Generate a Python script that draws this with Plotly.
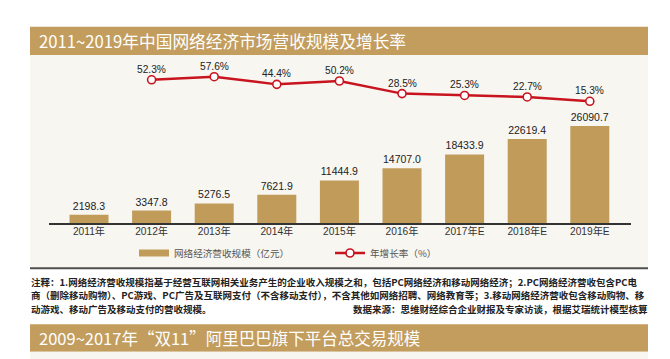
import plotly.graph_objects as go

# ---- data ----
years = ["2011年", "2012年", "2013年", "2014年", "2015年", "2016年", "2017年E", "2018年E", "2019年E"]
revenue = [2198.3, 3347.8, 5276.5, 7621.9, 11444.9, 14707.0, 18433.9, 22619.4, 26090.7]
growth_years = ["2012年", "2013年", "2014年", "2015年", "2016年", "2017年E", "2018年E", "2019年E"]
growth = [52.3, 57.6, 44.4, 50.2, 28.5, 25.3, 22.7, 15.3]

title1 = "2011~2019年中国网络经济市场营收规模及增长率"
title2 = "2009~2017年“双11”阿里巴巴旗下平台总交易规模"
legend_bar = "网络经济营收规模（亿元）"
legend_line = "年增长率（%）"
note1 = "注释：1.网络经济营收规模指基于经营互联网相关业务产生的企业收入规模之和，包括PC网络经济和移动网络经济；2.PC网络经济营收包含PC电"
note2 = "商（删除移动购物）、PC游戏、PC广告及互联网支付（不含移动支付），不含其他如网络招聘、网络教育等；3.移动网络经济营收包含移动购物、移"
note3 = "动游戏、移动广告及移动支付的营收规模。"
source = "数据来源：思维财经综合企业财报及专家访谈，根据艾瑞统计模型核算"

# ---- style ----
W, H = 670, 359
L, R, T, B = 49, 39, 60, 136
GOLD = "#c09b5a"
BAR_GOLD = "#c29d5e"
RED = "#c8141e"
PANEL = "#f8f6f0"
NUM_FONT = "Liberation Sans, Arial, Noto Sans CJK SC, sans-serif"
CJK_FONT = "Noto Sans CJK SC, Noto Sans, sans-serif"

pw = W - L - R
ph = H - T - B


def px(X):
    return (X - L) / pw


def py(Y):
    return (H - B - Y) / ph


fig = go.Figure()

fig.add_trace(go.Bar(
    x=years, y=revenue, marker_color=GOLD, marker_line_width=0,
    texttemplate="%{y:.1f}", textposition="outside", cliponaxis=False,
    textfont=dict(family=NUM_FONT, size=10.5, color="#222"),
    showlegend=False, name=legend_bar,
))
# legend swatch for the bar series (wide flat bar look)
fig.add_trace(go.Scatter(
    x=[None], y=[None], mode="lines", line=dict(color=GOLD, width=7),
    name=legend_bar, showlegend=True, legend="legend",
))
fig.add_trace(go.Scatter(
    x=growth_years, y=growth, yaxis="y2", mode="lines+markers",
    line=dict(color=RED, width=2.5),
    marker=dict(symbol="circle", size=8, color="white", line=dict(color=RED, width=1.6)),
    cliponaxis=False, name=legend_line, legend="legend2",
))

annotations = []
for g_year, g_val in zip(growth_years, growth):
    annotations.append(dict(
        x=g_year, y=g_val, xref="x", yref="y2", text=f"{g_val:.1f}%", showarrow=False,
        yanchor="middle", yshift=10.5, font=dict(family=NUM_FONT, size=10.2, color="#222"),
    ))

shapes = [
    dict(type="rect", xref="paper", yref="paper", x0=px(30), x1=px(648), y0=py(268), y1=py(55),
         fillcolor=PANEL, line_width=0, layer="below"),
    dict(type="rect", xref="paper", yref="paper", x0=px(30), x1=px(648), y0=py(55), y1=py(26.7),
         fillcolor=BAR_GOLD, line_width=0, layer="below"),
    dict(type="line", xref="paper", yref="paper", x0=px(30), x1=px(648), y0=py(268.3), y1=py(268.3),
         line=dict(color="#505050", width=2), layer="below"),
    dict(type="rect", xref="paper", yref="paper", x0=px(30), x1=px(648), y0=py(351.7), y1=py(324.3),
         fillcolor=BAR_GOLD, line_width=0, layer="below"),
    dict(type="rect", xref="paper", yref="paper", x0=px(30), x1=px(648), y0=py(359), y1=py(351.7),
         fillcolor=PANEL, line_width=0, layer="below"),
]

note_font = dict(family=CJK_FONT, size=9.5, color="#222", weight="bold")
annotations += [
    dict(text=title1, xref="paper", yref="paper", x=px(37), y=py(41), xanchor="left", yanchor="middle",
         showarrow=False, font=dict(family=CJK_FONT, size=16.7, color="white")),
    dict(text=title2, xref="paper", yref="paper", x=px(37), y=py(338), xanchor="left", yanchor="middle",
         showarrow=False, font=dict(family=CJK_FONT, size=16.5, color="white")),
    dict(text=note1, xref="paper", yref="paper", x=px(30), y=py(282), xanchor="left",
         yanchor="middle", showarrow=False, font=note_font, borderpad=0),
    dict(text=note2, xref="paper", yref="paper", x=px(30), y=py(295.3), xanchor="left",
         yanchor="middle", showarrow=False, font=note_font, borderpad=0),
    dict(text=note3, xref="paper", yref="paper", x=px(30), y=py(308.6), xanchor="left",
         yanchor="middle", showarrow=False, font=note_font, borderpad=0),
    dict(text=source, xref="paper", yref="paper", x=px(649), y=py(308.6), xanchor="right",
         yanchor="middle", showarrow=False, font=note_font, borderpad=0),
]

legend_common = dict(orientation="h", yanchor="middle", y=py(253), bgcolor="rgba(0,0,0,0)",
                     font=dict(family=CJK_FONT, size=9.6, color="#555"))

fig.update_layout(
    width=W, height=H,
    margin=dict(l=L, r=R, t=T, b=B, pad=0),
    paper_bgcolor="white", plot_bgcolor="rgba(0,0,0,0)",
    bargap=0.377,
    xaxis=dict(type="category", range=[-0.639, 8.658], showline=True, linecolor="#333", linewidth=1.5,
               showgrid=False, zeroline=False, ticks="", fixedrange=True, ticklabelstandoff=-2,
               tickfont=dict(family=NUM_FONT, size=10.2, color="#333")),
    yaxis=dict(range=[0, 43850], visible=False, showgrid=False, zeroline=False),
    yaxis2=dict(range=[-194, 86.3], overlaying="y", visible=False, showgrid=False, zeroline=False),
    legend=dict(x=px(134), xanchor="left", **legend_common),
    legend2=dict(x=px(330), xanchor="left", **legend_common),
    shapes=shapes, annotations=annotations,
)

fig.write_html("out.html", config={"displayModeBar": False},
               post_script="document.body.style.margin='0';")
